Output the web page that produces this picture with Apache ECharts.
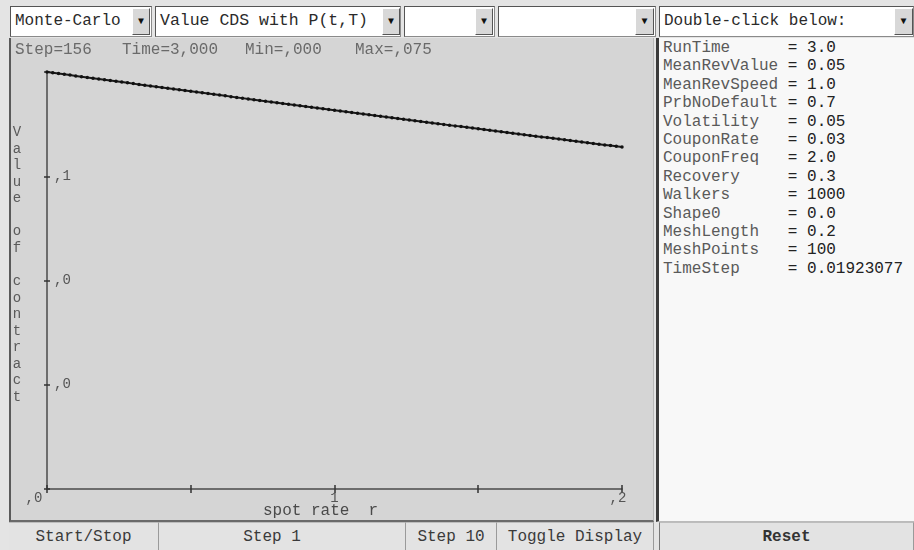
<!DOCTYPE html>
<html>
<head>
<meta charset="utf-8">
<script src="https://cdn.jsdelivr.net/npm/echarts@6/dist/echarts.min.js"></script>
<style>
  html, body { margin:0; padding:0; }
  body { width:914px; height:550px; overflow:hidden; background:#e4e4e4; position:relative;
         font-family:"Liberation Mono","DejaVu Sans Mono",monospace; }
  .abs { position:absolute; box-sizing:border-box; }
  .combo { background:#fff; border:1px solid #8a8a8a; border-top-color:#555; border-left-color:#555;
           font-size:16px; color:#2a2a2a; line-height:28px; padding-left:4px; white-space:pre; overflow:hidden; }
  .arrow { background:#d8d8d8; border:1px solid #fff; border-right-color:#555; border-bottom-color:#555;
           font-size:10px; color:#111; text-align:center; line-height:26px; }
  .btn { background:#e3e3e3; border-right:1px solid #9a9a9a; border-top:1px solid #bdbdbd;
         font-size:16px; color:#3a3a3a; text-align:center; line-height:28px; white-space:pre; }
  .param { font-size:16px; line-height:18.4px; white-space:pre; }
  .param .n { color:#5a5a5a; }
  .param .v { color:#222; }
</style>
</head>
<body>
<!-- top combo row -->
<div class="abs combo" style="left:10px;top:6px;width:142px;height:31px;">Monte-Carlo</div>
<div class="abs arrow" style="left:132px;top:8px;width:18px;height:27px;">&#9660;</div>
<div class="abs combo" style="left:155px;top:6px;width:246px;height:31px;font-size:16.5px;">Value CDS with P(t,T)</div>
<div class="abs arrow" style="left:382px;top:8px;width:18px;height:27px;">&#9660;</div>
<div class="abs combo" style="left:404px;top:6px;width:91px;height:31px;"></div>
<div class="abs arrow" style="left:475px;top:8px;width:18px;height:27px;">&#9660;</div>
<div class="abs combo" style="left:498px;top:6px;width:158px;height:31px;"></div>
<div class="abs arrow" style="left:635px;top:8px;width:19px;height:27px;">&#9660;</div>
<div class="abs combo" style="left:659px;top:6px;width:255px;height:31px;">Double-click below:</div>
<div class="abs arrow" style="left:894px;top:8px;width:19px;height:27px;">&#9660;</div>

<!-- plot panel -->
<div class="abs" style="left:9px;top:38px;width:645px;height:484px;background:#d5d5d5;border-left:2px solid #5a5a5a;border-bottom:2px solid #6a6a6a;border-right:1px solid #b8b8b8;"></div>
<div id="chart" class="abs" style="left:11px;top:38px;width:641px;height:482px;"></div>

<!-- right parameter panel -->
<div class="abs" style="left:656px;top:38px;width:258px;height:484px;background:#f8f8f8;border-left:3px solid #3a3a3a;border-bottom:1px solid #bbb;"></div>
<div id="params" class="abs" style="left:663px;top:39px;width:250px;height:300px;"></div>

<!-- bottom buttons -->
<div class="abs btn" style="left:9px;top:522px;width:150px;height:28px;">Start/Stop</div>
<div class="abs btn" style="left:159px;top:522px;width:247px;height:28px;padding-right:20px;">Step 1</div>
<div class="abs btn" style="left:406px;top:522px;width:91px;height:28px;">Step 10</div>
<div class="abs btn" style="left:497px;top:522px;width:157px;height:28px;">Toggle Display</div>
<div class="abs btn" style="left:659px;top:522px;width:255px;height:28px;font-weight:bold;color:#333;border-left:1px solid #777;">Reset</div>

<script>
// ---------------- data ----------------
const rValues = [0,0.002,0.004,0.006,0.008,0.010,0.012,0.014,0.016,0.018,
  0.020,0.022,0.024,0.026,0.028,0.030,0.032,0.034,0.036,0.038,
  0.040,0.042,0.044,0.046,0.048,0.050,0.052,0.054,0.056,0.058,
  0.060,0.062,0.064,0.066,0.068,0.070,0.072,0.074,0.076,0.078,
  0.080,0.082,0.084,0.086,0.088,0.090,0.092,0.094,0.096,0.098,
  0.100,0.102,0.104,0.106,0.108,0.110,0.112,0.114,0.116,0.118,
  0.120,0.122,0.124,0.126,0.128,0.130,0.132,0.134,0.136,0.138,
  0.140,0.142,0.144,0.146,0.148,0.150,0.152,0.154,0.156,0.158,
  0.160,0.162,0.164,0.166,0.168,0.170,0.172,0.174,0.176,0.178,
  0.180,0.182,0.184,0.186,0.188,0.190,0.192,0.194,0.196,0.198,0.200];
const contractValues = [0.07500,0.07486,0.07472,0.07458,0.07444,0.07430,0.07416,0.07402,0.07388,0.07374,
  0.07361,0.07347,0.07333,0.07319,0.07305,0.07291,0.07277,0.07263,0.07250,0.07236,
  0.07222,0.07208,0.07194,0.07181,0.07167,0.07153,0.07139,0.07126,0.07112,0.07098,
  0.07085,0.07071,0.07057,0.07043,0.07030,0.07016,0.07002,0.06989,0.06975,0.06962,
  0.06948,0.06934,0.06921,0.06907,0.06894,0.06880,0.06867,0.06853,0.06840,0.06826,
  0.06813,0.06799,0.06786,0.06772,0.06759,0.06745,0.06732,0.06718,0.06705,0.06691,
  0.06678,0.06665,0.06651,0.06638,0.06624,0.06611,0.06598,0.06584,0.06571,0.06558,
  0.06544,0.06531,0.06518,0.06505,0.06491,0.06478,0.06465,0.06452,0.06438,0.06425,
  0.06412,0.06399,0.06386,0.06372,0.06359,0.06346,0.06333,0.06320,0.06307,0.06294,
  0.06281,0.06267,0.06254,0.06241,0.06228,0.06215,0.06202,0.06189,0.06176,0.06163,0.06150];
const xTickLabels = [',0', '', '1', '', ',2'];
const yTickLabels = ['', ',0', ',0', ',1', ''];
const headerTexts = ['Step=156', 'Time=3,000', 'Min=,000', 'Max=,075'];
const paramNames = ['RunTime','MeanRevValue','MeanRevSpeed','PrbNoDefault','Volatility','CouponRate',
  'CouponFreq','Recovery','Walkers','Shape0','MeshLength','MeshPoints','TimeStep'];
const paramValues = ['3.0','0.05','1.0','0.7','0.05','0.03','2.0','0.3','1000','0.0','0.2','100','0.01923077'];
const xAxisTitle = 'spot rate  r';
const yAxisTitle = 'Value of contract';

// ---------------- parameter list ----------------
const pEl = document.getElementById('params');
pEl.innerHTML = paramNames.map((n, i) => {
  const pad = ' '.repeat(Math.max(1, 13 - n.length));
  return '<div class="param"><span class="n">' + n + pad + '</span><span class="v">= ' + paramValues[i] + '</span></div>';
}).join('');

// ---------------- chart ----------------
const chart = echarts.init(document.getElementById('chart'), null, { renderer: 'canvas' });
const mono = '"Liberation Mono", monospace';
const X_INT = 0.05, Y_MAX = 0.075, Y_INT = 0.01875;
const headerX = [4, 111, 234, 344];

chart.setOption({
  animation: false,
  backgroundColor: 'transparent',
  grid: { left: 36, right: 30, top: 34, bottom: 31 },
  xAxis: [{
    type: 'value', min: 0, max: 0.2, interval: X_INT,
    axisLine: { lineStyle: { color: '#4a4a4a', width: 1.5 } },
    axisTick: { length: 4, lineStyle: { color: '#333', width: 1.5 } },
    splitLine: { show: false },
    axisLabel: {
      margin: 2, fontFamily: mono, fontSize: 14, color: '#555',
      formatter: function (v) {
        const i = Math.round(v / X_INT);
        const t = xTickLabels[i] || '';
        if (!t) return '';
        if (i === 0) return '{a|' + t + '}';
        if (i === 4) return '{b|' + t + '}';
        return t;
      },
      rich: {
        a: { fontFamily: mono, fontSize: 14, color: '#555', padding: [0, 26, 0, 0] },
        b: { fontFamily: mono, fontSize: 14, color: '#555', padding: [0, 8, 0, 0] }
      }
    }
  }, {
    type: 'value', min: 0, max: 0.2, interval: X_INT, position: 'bottom',
    axisLine: { show: false },
    axisTick: { inside: true, length: 4, lineStyle: { color: '#333', width: 1.5 } },
    axisLabel: { show: false }, splitLine: { show: false }
  }],
  yAxis: [{
    type: 'value', min: 0, max: Y_MAX, interval: Y_INT,
    axisLine: { show: true, lineStyle: { color: '#4a4a4a', width: 1.5 } },
    axisTick: { show: true, length: 3, lineStyle: { color: '#333', width: 1.5 } },
    splitLine: { show: false },
    axisLabel: {
      inside: true, margin: 7, fontFamily: mono, fontSize: 14, color: '#555',
      verticalAlign: 'middle', padding: [8, 0, 0, 0],
      formatter: function (v) { return yTickLabels[Math.round(v / Y_INT)] || ''; }
    }
  }, {
    type: 'value', min: 0, max: Y_MAX, interval: Y_INT, position: 'left',
    axisLine: { show: false },
    axisTick: { show: true, inside: true, length: 3, lineStyle: { color: '#333', width: 1.5 } },
    axisLabel: { show: false }, splitLine: { show: false }
  }],
  series: [{
    type: 'line',
    xAxisIndex: 0, yAxisIndex: 0,
    data: rValues.map((r, i) => [r, contractValues[i]]),
    showSymbol: true, showAllSymbol: true,
    symbol: 'circle', symbolSize: 3.5,
    itemStyle: { color: '#111' },
    lineStyle: { color: '#1a1a1a', width: 2 },
    silent: true
  }],
  graphic: [
    ...headerTexts.map((t, i) => ({
      type: 'text', left: headerX[i], top: 4,
      style: { text: t, font: '16px ' + mono, fill: '#6a6a6a' }
    })),
    {
      type: 'text', x: 6, y: 86,
      style: { text: yAxisTitle.split('').join('\n'), font: '14px ' + mono, fill: '#5a5a5a',
               lineHeight: 16.56, align: 'center', verticalAlign: 'top' }
    },
    {
      type: 'text', x: 252, y: 473,
      style: { text: xAxisTitle, font: '16px ' + mono, fill: '#4a4a4a', verticalAlign: 'middle' }
    }
  ]
});
</script>
</body>
</html>
